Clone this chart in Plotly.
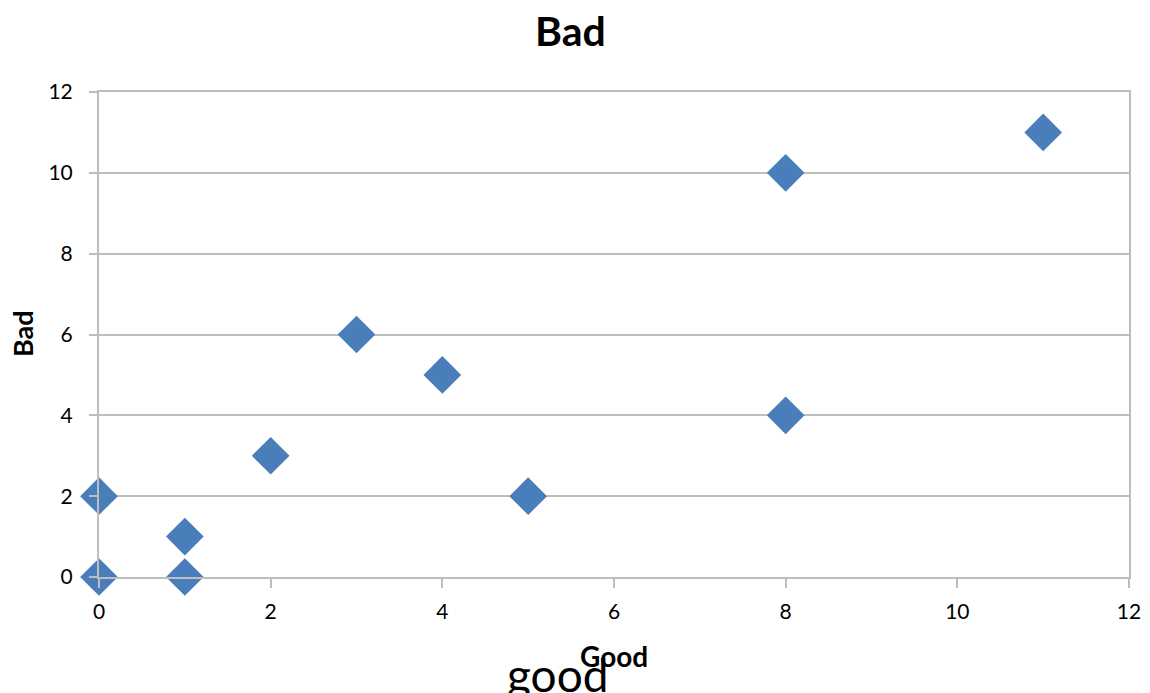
import plotly.graph_objects as go

good = [0, 0, 1, 1, 2, 3, 4, 5, 8, 8, 11]
bad = [0, 2, 0, 1, 3, 6, 5, 2, 4, 10, 11]
x_ticks = [0, 2, 4, 6, 8, 10, 12]
y_ticks = [0, 2, 4, 6, 8, 10, 12]

FONT = "Lato"
GRID = "#BEBEBE"

fig = go.Figure()
fig.add_trace(go.Scatter(
    x=good, y=bad, mode="markers",
    marker=dict(symbol="diamond", size=29, color="#4A7EBB", line=dict(width=0)),
    cliponaxis=False, showlegend=False,
))

fig.update_layout(
    width=1150, height=693,
    margin=dict(l=99, r=21, t=92, b=116),
    paper_bgcolor="white", plot_bgcolor="white",
    font=dict(family=FONT, color="black", size=21),
    title=dict(text="<b>Bad</b>", x=0.496, xanchor="center", y=0.955, yanchor="middle",
               font=dict(size=41, family=FONT)),
    xaxis=dict(
        range=[0, 12], tickvals=x_ticks, ticktext=[str(v) for v in x_ticks],
        showgrid=False, zeroline=False, automargin=False,
        showline=True, linecolor=GRID, linewidth=2, mirror=True,
        ticks="outside", ticklen=9, tickcolor=GRID, tickwidth=2,
        tickfont=dict(size=21), ticklabelstandoff=6,
    ),
    yaxis=dict(
        range=[0, 12], tickvals=y_ticks, ticktext=[str(v) for v in y_ticks],
        showgrid=True, gridcolor=GRID, gridwidth=2, zeroline=False, automargin=False,
        showline=True, linecolor=GRID, linewidth=2, mirror=True,
        ticks="outside", ticklen=8, tickcolor=GRID, tickwidth=2,
        tickfont=dict(size=21), ticklabelstandoff=12,
    ),
)

# axis titles
fig.add_annotation(
    text="<b>Good</b>", xref="paper", yref="paper",
    x=0.5, y=-0.163, xanchor="center", yanchor="middle",
    showarrow=False, font=dict(size=28, family=FONT, color="black"),
)
fig.add_annotation(
    text="<b>Bad</b>", xref="paper", yref="paper",
    x=-0.0748, y=0.503, xanchor="center", yanchor="middle", textangle=-90,
    showarrow=False, font=dict(size=27, family=FONT, color="black"),
)
# extra label below the axis
fig.add_annotation(
    text="good", xref="paper", yref="paper",
    x=0.4456, y=-0.2, xanchor="center", yanchor="middle",
    showarrow=False, font=dict(size=46, family=FONT, color="black"),
)

fig.write_html(
    "out.html",
    config={"displayModeBar": False},
    post_script="document.body.style.margin='0';document.body.style.overflow='hidden';",
)
